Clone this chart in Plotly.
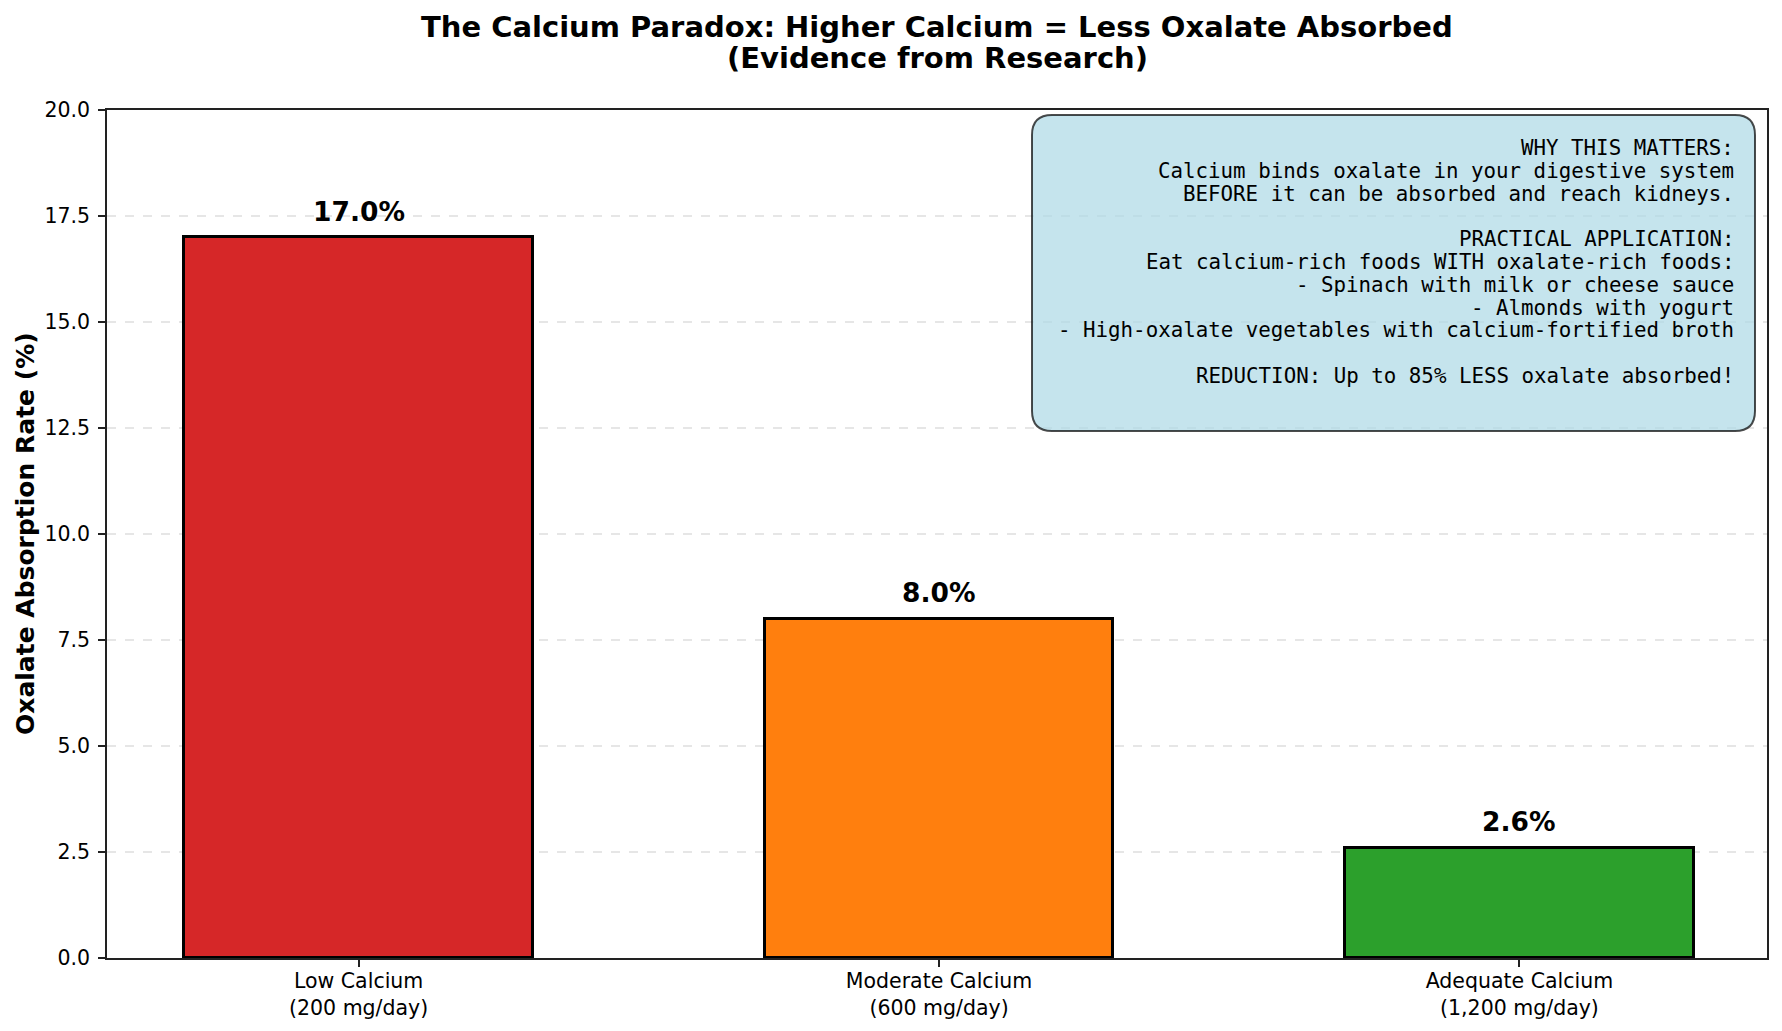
import plotly.graph_objects as go

# ---- data ----
categories = ["Low Calcium<br>(200 mg/day)", "Moderate Calcium<br>(600 mg/day)", "Adequate Calcium<br>(1,200 mg/day)"]
absorption = [17.0, 8.0, 2.6]
bar_colors = ["#d62728", "#ff7f0e", "#2ca02c"]
y_ticks = [0, 2.5, 5, 7.5, 10, 12.5, 15, 17.5, 20]

title_lines = ["The Calcium Paradox: Higher Calcium = Less Oxalate Absorbed", "(Evidence from Research)"]
y_label = "Oxalate Absorption Rate (%)"
box_lines = [
    "WHY THIS MATTERS:",
    "Calcium binds oxalate in your digestive system",
    "BEFORE it can be absorbed and reach kidneys.",
    "",
    "PRACTICAL APPLICATION:",
    "Eat calcium-rich foods WITH oxalate-rich foods:",
    "- Spinach with milk or cheese sauce",
    "- Almonds with yogurt",
    "- High-oxalate vegetables with calcium-fortified broth",
    "",
    "REDUCTION: Up to 85% LESS oxalate absorbed!",
]

# ---- layout geometry (pixels) ----
W, H = 1782, 1031
L, R, T, B = 107, 1767, 110, 958

def fx(px):
    return (px - L) / (R - L)

def fy(py):
    return (B - py) / (B - T)

SANS = "DejaVu Sans"
MONO = "DejaVu Sans Mono"

fig = go.Figure()
fig.add_trace(go.Bar(
    x=list(range(len(categories))),
    y=absorption,
    width=0.6,
    marker=dict(color=bar_colors, line=dict(color="black", width=3)),
    hoverinfo="skip",
))

annotations = []
# bar value labels
for i, v in enumerate(absorption):
    annotations.append(dict(
        x=i, y=v, xref="x", yref="y", text=f"{v:.1f}%", showarrow=False,
        yshift=26, yanchor="middle", xanchor="center",
        font=dict(family=SANS, size=26.5, color="black", weight="bold"),
    ))
# title
for i, t in enumerate(title_lines):
    annotations.append(dict(
        x=0.5, y=fy(27 + 31 * i), xref="paper", yref="paper", text=t, showarrow=False,
        xanchor="center", yanchor="middle",
        font=dict(family=SANS, size=29, color="black", weight="bold"),
    ))
# y axis label
annotations.append(dict(
    x=fx(25), y=0.5, xref="paper", yref="paper", text=y_label, showarrow=False,
    textangle=-90, xanchor="center", yanchor="middle",
    font=dict(family=SANS, size=25, color="black", weight="bold"),
))
# info box text
for i, t in enumerate(box_lines):
    if not t:
        continue
    annotations.append(dict(
        x=fx(1736), y=fy(148 + 22.8 * i), xref="paper", yref="paper", text=t, showarrow=False,
        xanchor="right", yanchor="middle",
        font=dict(family=MONO, size=20.8, color="black"),
    ))

# rounded info box
bx0, bx1, by0, by1, rad = 1032, 1755, 115, 431, 20
def P(px, py):
    return f"{fx(px):.5f},{fy(py):.5f}"
path = (
    f"M {P(bx0 + rad, by0)} L {P(bx1 - rad, by0)} Q {P(bx1, by0)} {P(bx1, by0 + rad)} "
    f"L {P(bx1, by1 - rad)} Q {P(bx1, by1)} {P(bx1 - rad, by1)} "
    f"L {P(bx0 + rad, by1)} Q {P(bx0, by1)} {P(bx0, by1 - rad)} "
    f"L {P(bx0, by0 + rad)} Q {P(bx0, by0)} {P(bx0 + rad, by0)} Z"
)
shapes = [dict(type="path", path=path, xref="paper", yref="paper",
               fillcolor="rgba(173,216,230,0.7)", line=dict(color="rgba(0,0,0,0.7)", width=2),
               layer="above")]

fig.update_layout(
    width=W, height=H,
    margin=dict(l=L, r=W - R, t=T, b=H - B, autoexpand=False),
    paper_bgcolor="white", plot_bgcolor="white",
    showlegend=False,
    bargap=0,
    annotations=annotations,
    shapes=shapes,
    xaxis=dict(
        range=[-0.4335, 2.4265], tickmode="array", tickvals=list(range(len(categories))),
        ticktext=categories, showgrid=False, zeroline=False, automargin=False,
        showline=True, linecolor="#222", linewidth=1.6, mirror=True,
        ticks="outside", ticklen=7, tickwidth=1.6, tickcolor="#222",
        tickfont=dict(family=SANS, size=20.5, color="black"),
        ticklabelstandoff=-3,
    ),
    yaxis=dict(
        range=[0, 20], tickmode="array", tickvals=y_ticks,
        ticktext=[f"{v:.1f}" for v in y_ticks], automargin=False,
        showgrid=True, gridcolor="#e6e6e6", griddash="dash", gridwidth=1.6,
        zeroline=False,
        showline=True, linecolor="#222", linewidth=1.6, mirror=True,
        ticks="outside", ticklen=7, tickwidth=1.6, tickcolor="#222",
        tickfont=dict(family=SANS, size=20.5, color="black"),
        ticklabelstandoff=4,
    ),
)

fig.write_html("out.html")
